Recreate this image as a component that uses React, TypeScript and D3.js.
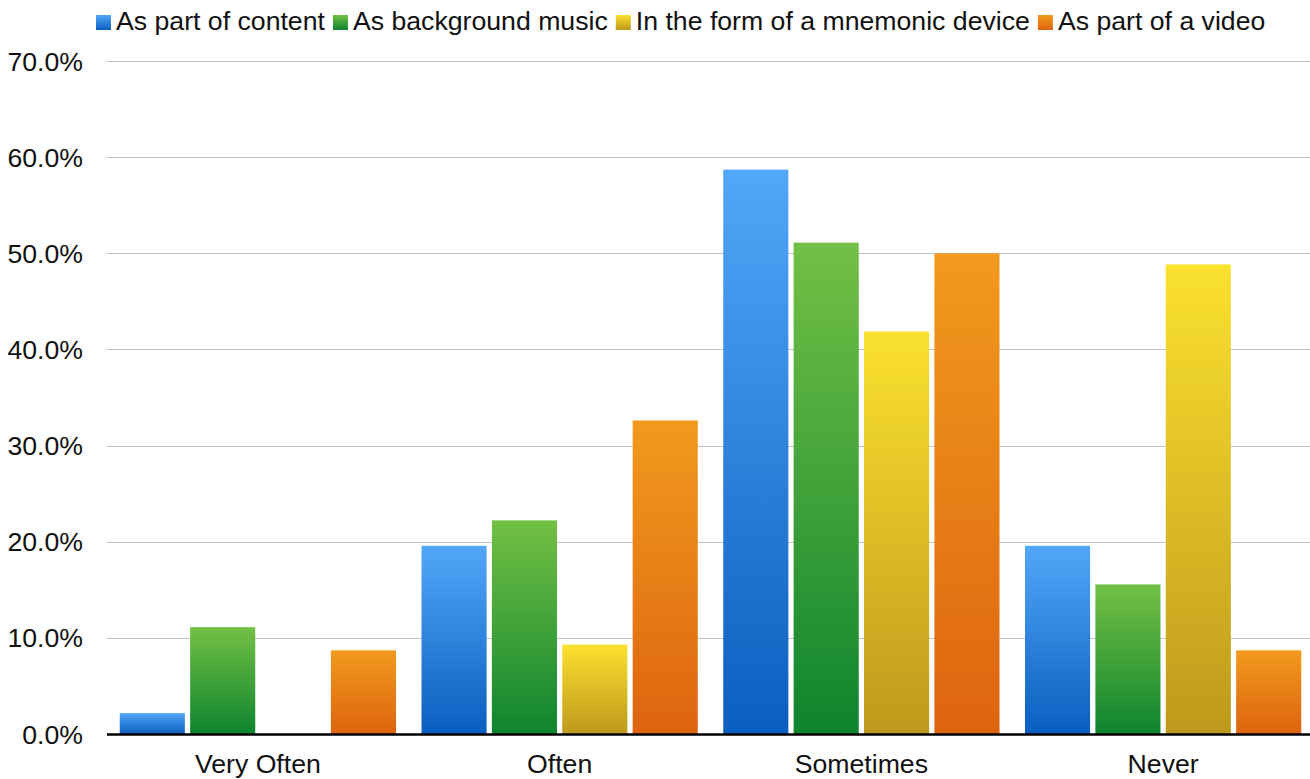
import React, { useEffect, useRef } from "react";
import * as d3 from "d3";

const categories = ["Very Often", "Often", "Sometimes", "Never"];
const seriesNames = [
  "As part of content",
  "As background music",
  "In the form of a mnemonic device",
  "As part of a video",
];
const asPartOfContent = [0.0217, 0.1957, 0.587, 0.1957];
const asBackgroundMusic = [0.1111, 0.2222, 0.5111, 0.1556];
const mnemonicDevice = [0.0, 0.093, 0.4186, 0.4884];
const asPartOfVideo = [0.087, 0.3261, 0.5, 0.087];
const yTicks = [0, 0.1, 0.2, 0.3, 0.4, 0.5, 0.6, 0.7];

const seriesValues = [asPartOfContent, asBackgroundMusic, mnemonicDevice, asPartOfVideo];
const topColors = ["#52a7f9", "#73c045", "#fbe12f", "#f19a1d"];
const bottomColors = ["#0a5ebf", "#0e842e", "#bd991c", "#de6410"];

const W = 1310;
const H = 779;
const FONT = "'Liberation Sans', Arial, sans-serif";
const FS = 26.67;

export default function App() {
  const ref = useRef<SVGSVGElement | null>(null);

  useEffect(() => {
    document.body.style.margin = "0";
    const svg = d3.select(ref.current);
    svg.selectAll("*").remove();

    const x0 = 107;
    const x1 = 1314;
    const yTop = 61;
    const yBottom = 734;

    const y = d3.scaleLinear().domain([0, 0.7]).range([yBottom, yTop]);
    const xCat = d3.scaleBand<string>().domain(categories).range([x0, x1]).padding(0);
    const bw = xCat.bandwidth();
    const xSer = d3
      .scaleBand<string>()
      .domain(seriesNames)
      .range([12.75, bw - 12.75])
      .paddingInner(0.075)
      .paddingOuter(0);

    const defs = svg.append("defs");
    seriesNames.forEach((_, i) => {
      const g = defs
        .append("linearGradient")
        .attr("id", "grad" + i)
        .attr("x1", 0)
        .attr("y1", 0)
        .attr("x2", 0)
        .attr("y2", 1);
      g.append("stop").attr("offset", "0%").attr("stop-color", topColors[i]);
      g.append("stop").attr("offset", "100%").attr("stop-color", bottomColors[i]);
    });

    // gridlines
    svg
      .append("g")
      .selectAll("line")
      .data(yTicks.filter((t) => t > 0))
      .join("line")
      .attr("x1", x0)
      .attr("x2", W)
      .attr("y1", (d) => Math.round(y(d)) + 0.5)
      .attr("y2", (d) => Math.round(y(d)) + 0.5)
      .attr("stroke", "#c3c3c3")
      .attr("stroke-width", 1);

    // y labels
    const fmt = d3.format(".1%");
    svg
      .append("g")
      .selectAll("text")
      .data(yTicks)
      .join("text")
      .attr("x", 83)
      .attr("y", (d) => y(d))
      .attr("dy", "0.36em")
      .attr("text-anchor", "end")
      .attr("font-family", FONT)
      .attr("font-size", FS)
      .attr("fill", "#111")
      .text((d) => fmt(d));

    // bars
    const gBars = svg.append("g");
    categories.forEach((cat, ci) => {
      seriesNames.forEach((s, si) => {
        const v = seriesValues[si][ci];
        if (v <= 0) return;
        const bx = (xCat(cat) as number) + (xSer(s) as number);
        gBars
          .append("rect")
          .attr("x", bx)
          .attr("y", y(v))
          .attr("width", xSer.bandwidth())
          .attr("height", yBottom - y(v))
          .attr("fill", `url(#grad${si})`);
      });
    });

    // axis line
    svg
      .append("line")
      .attr("x1", x0)
      .attr("x2", W)
      .attr("y1", yBottom + 0.5)
      .attr("y2", yBottom + 0.5)
      .attr("stroke", "#000")
      .attr("stroke-width", 2.5);

    // category labels
    svg
      .append("g")
      .selectAll("text")
      .data(categories)
      .join("text")
      .attr("x", (d) => (xCat(d) as number) + bw / 2)
      .attr("y", 773)
      .attr("text-anchor", "middle")
      .attr("font-family", FONT)
      .attr("font-size", FS)
      .attr("fill", "#111")
      .text((d) => d);

    // legend
    const leg = svg.append("g");
    let lx = 96;
    seriesNames.forEach((s, i) => {
      leg
        .append("rect")
        .attr("x", lx)
        .attr("y", 15)
        .attr("width", 15)
        .attr("height", 15)
        .attr("fill", `url(#grad${i})`);
      lx += 15 + 5;
      const t = leg
        .append("text")
        .attr("x", lx)
        .attr("y", 30)
        .attr("font-family", FONT)
        .attr("font-size", FS)
        .attr("fill", "#111")
        .text(s);
      const len = (t.node() as SVGTextElement).getComputedTextLength();
      lx += len + 8;
    });
  }, []);

  return (
    <svg
      ref={ref}
      width={W}
      height={H}
      style={{ display: "block", background: "#fff" }}
    />
  );
}
